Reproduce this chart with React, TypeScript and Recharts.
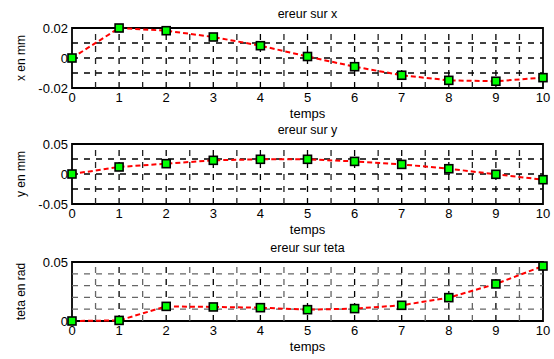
import React from 'react';
import { LineChart, Line, XAxis, YAxis, ReferenceLine, ReferenceArea } from 'recharts';

const temps = [0, 1, 2, 3, 4, 5, 6, 7, 8, 9, 10];
const erreurX = [0, 0.02, 0.0182, 0.014, 0.0082, 0.001, -0.0058, -0.0115, -0.0149, -0.0155, -0.0131];
const erreurY = [0, 0.0117, 0.0172, 0.0228, 0.0245, 0.0245, 0.021, 0.016, 0.0088, -0.0005, -0.0095];
const erreurTeta = [0, 0.0005, 0.0124, 0.0119, 0.0113, 0.0096, 0.0105, 0.0133, 0.0198, 0.0314, 0.0466];

const xTicks = temps;
const halfSteps = [0.5, 1, 1.5, 2, 2.5, 3, 3.5, 4, 4.5, 5, 5.5, 6, 6.5, 7, 7.5, 8, 8.5, 9, 9.5];

const FONT = '"Liberation Sans", Arial, sans-serif';

const Marker = (props: any) => {
  const { cx, cy } = props;
  if (cx == null || cy == null) return null;
  return <rect x={cx - 4} y={cy - 4} width={8} height={8} fill="#00ff00" stroke="#000" strokeWidth={1.6} />;
};

const YLabel = ({ viewBox, text }: any) => {
  const cy = viewBox.y + viewBox.height / 2;
  const x = 21;
  return (
    <text x={x} y={cy} transform={`rotate(-90, ${x}, ${cy})`} textAnchor="middle" dominantBaseline="central"
      fontSize={12} fontFamily={FONT} fill="#000">{text}</text>
  );
};

const XLabel = ({ viewBox, text }: any) => (
  <text x={viewBox.x + viewBox.width / 2} y={viewBox.y + 25} textAnchor="middle" dominantBaseline="central"
    fontSize={13} fontFamily={FONT} fill="#000">{text}</text>
);

interface PanelProps {
  title: string;
  ylabel: string;
  values: number[];
  domain: [number, number];
  yTicks: number[];
  hGrid: number[];
  hGridColor: string;
  halfColor: string;
  plotHeight: number;
  top: number;
}

const Panel: React.FC<PanelProps> = ({ title, ylabel, values, domain, yTicks, hGrid, hGridColor, halfColor, plotHeight, top }) => {
  const data = temps.map((t, i) => ({ t, v: values[i] }));
  const height = 28 + plotHeight + 40;
  return (
    <div style={{ position: 'absolute', left: 0, top, width: 554, height }}>
      <div style={{ position: 'absolute', left: 72, width: 471, top: 7, textAlign: 'center', fontFamily: FONT, fontSize: 12.5, lineHeight: '15px' }}>
        {title}
      </div>
      <LineChart width={554} height={height} data={data} margin={{ top: 28, right: 11, left: 0, bottom: 8 }}>
        <XAxis dataKey="t" type="number" domain={[0, 10]} ticks={xTicks} height={32} tickSize={3} tickLine={false}
          axisLine={false} tick={{ fill: '#000', fontSize: 13, fontFamily: FONT }}
          label={<XLabel text="temps" />} />
        <YAxis type="number" domain={domain} ticks={yTicks} width={72} tickSize={2} tickMargin={2} tickLine={false}
          axisLine={false} tick={{ fill: '#000', fontSize: 13, fontFamily: FONT }}
          label={<YLabel text={ylabel} />} />
        {halfSteps.map((x) => (
          <ReferenceLine key={`v${x}`} x={x} stroke={Number.isInteger(x) ? '#000' : halfColor} strokeWidth={1.3} strokeDasharray="6 6" />
        ))}
        {hGrid.map((y) => (
          <ReferenceLine key={`h${y}`} y={y} stroke={hGridColor} strokeWidth={1.3} strokeDasharray="6 6" />
        ))}
        <ReferenceArea x1={0} x2={10} y1={domain[0]} y2={domain[1]} fill="none" stroke="#000" strokeWidth={1.8} />
        <Line dataKey="v" type="linear" stroke="#ff0000" strokeWidth={2} strokeDasharray="5 3"
          dot={<Marker />} isAnimationActive={false} />
      </LineChart>
    </div>
  );
};

export default function App() {
  return (
    <div style={{ position: 'absolute', left: 0, top: 0, width: 554, height: 359, background: '#fff' }}>
      <Panel title="ereur sur x" ylabel="x en mm" values={erreurX} domain={[-0.02, 0.02]} yTicks={[-0.02, 0, 0.02]}
        hGrid={[-0.01, 0, 0.01]} hGridColor="#000" halfColor="#222" plotHeight={60} top={0} />
      <Panel title="ereur sur y" ylabel="y en mm" values={erreurY} domain={[-0.05, 0.05]} yTicks={[-0.05, 0, 0.05]}
        hGrid={[-0.025, 0, 0.025]} hGridColor="#000" halfColor="#222" plotHeight={60} top={116} />
      <Panel title="ereur sur teta" ylabel="teta en rad" values={erreurTeta} domain={[0, 0.05]} yTicks={[0, 0.05]}
        hGrid={[0.01, 0.02, 0.03, 0.04]} hGridColor="#666" halfColor="#666" plotHeight={59} top={234} />
    </div>
  );
}
